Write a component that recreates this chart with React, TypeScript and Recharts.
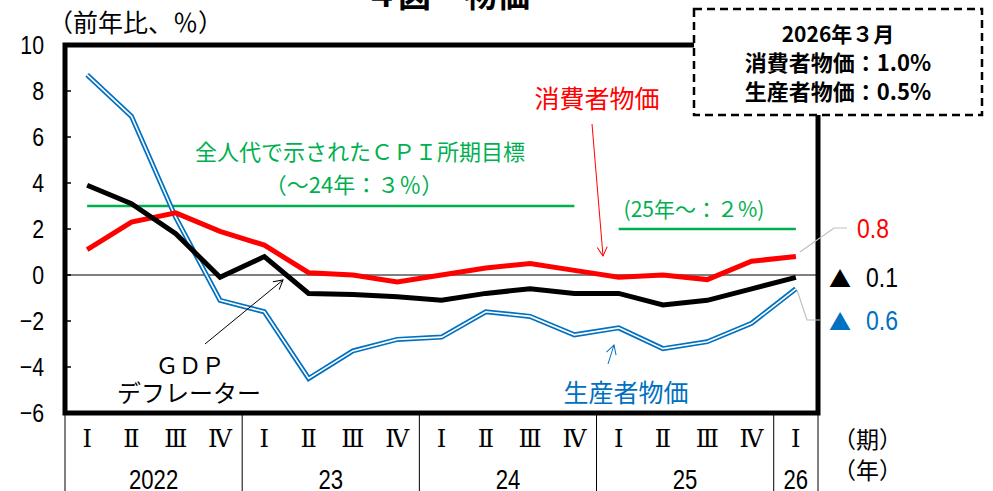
import { LineChart, Line, XAxis, YAxis, ReferenceLine } from 'recharts';

const periods = ['22Q1', '22Q2', '22Q3', '22Q4', '23Q1', '23Q2', '23Q3', '23Q4', '24Q1', '24Q2', '24Q3', '24Q4', '25Q1', '25Q2', '25Q3', '25Q4', '26Q1'];
const quarterLabels = ['Ⅰ', 'Ⅱ', 'Ⅲ', 'Ⅳ', 'Ⅰ', 'Ⅱ', 'Ⅲ', 'Ⅳ', 'Ⅰ', 'Ⅱ', 'Ⅲ', 'Ⅳ', 'Ⅰ', 'Ⅱ', 'Ⅲ', 'Ⅳ', 'Ⅰ'];
const yearLabels = ['2022', '23', '24', '25', '26'];

const cpi = [1.1, 2.3, 2.7, 1.9, 1.3, 0.1, 0.0, -0.3, 0.0, 0.3, 0.5, 0.2, -0.1, 0.0, -0.2, 0.6, 0.8];
const ppi = [8.7, 6.9, 2.5, -1.1, -1.6, -4.5, -3.3, -2.8, -2.7, -1.6, -1.8, -2.6, -2.3, -3.2, -2.9, -2.1, -0.6];
const deflator = [3.9, 3.1, 1.8, -0.1, 0.8, -0.8, -0.85, -0.95, -1.1, -0.8, -0.6, -0.8, -0.8, -1.3, -1.1, -0.6, -0.1];
const target3 = [3, 3, 3, 3, 3, 3, 3, 3, 3, 3, 3, 3, null, null, null, null, null];
const target2 = [null, null, null, null, null, null, null, null, null, null, null, null, 2, 2, 2, 2, 2];

const yTicks = [-6, -4, -2, 0, 2, 4, 6, 8, 10];

const data = periods.map((p, i) => ({
  period: p,
  cpi: cpi[i],
  ppi: ppi[i],
  deflator: deflator[i],
  target3: target3[i],
  target2: target2[i],
}));

// layout
const W = 993;
const H = 491;
const PLOT_L = 65;
const PLOT_R = 818;
const PLOT_T = 45;
const PLOT_B = 413;
const HALF = (PLOT_R - PLOT_L) / periods.length / 2;

const JP = '"Noto Sans CJK JP", sans-serif';
const NUM = '"Liberation Sans", "Noto Sans CJK JP", sans-serif';
const ROMAN = '"DejaVu Serif", "Noto Sans CJK JP", serif';

const RED = '#ff0000';
const BLUE = '#0070c0';
const GREEN = '#00b050';

// condensed number text: squeeze horizontally around the anchor
function Num({ x, y, anchor = 'start', size = 26, fill = '#000', children }: any) {
  return (
    <g transform={`translate(${x},${y}) scale(0.82,1)`}>
      <text x={0} y={0} textAnchor={anchor} fontFamily={NUM} fontSize={size} fill={fill}>
        {children}
      </text>
    </g>
  );
}

function YTick(props: any) {
  const { y, payload } = props;
  const v = payload.value as number;
  return (
    <g>
      <line x1={PLOT_L} x2={PLOT_L + 6} y1={y} y2={y} stroke="#000" strokeWidth={1.5} />
      <Num x={44} y={y + 9} anchor="end" size={26}>
        {v < 0 ? `−${Math.abs(v)}` : v}
      </Num>
    </g>
  );
}

function XTick(props: any) {
  const { x, index } = props;
  const q = quarterLabels[index];
  const yearIdx = Math.floor(index / 4);
  const showYear = index % 4 === 1 || index === periods.length - 1;
  const yearX = index === periods.length - 1 ? x : x + HALF;
  return (
    <g>
      <text x={x} y={447} textAnchor="middle" fontFamily={ROMAN} fontSize={24} fill="#000">
        {q}
      </text>
      {showYear && (
        <Num x={yearX} y={489} anchor="middle" size={27}>
          {yearLabels[yearIdx]}
        </Num>
      )}
      {index % 4 === 0 && <line x1={x - HALF} x2={x - HALF} y1={PLOT_B} y2={H} stroke="#000" strokeWidth={1} />}
      {index === periods.length - 1 && <line x1={x + HALF} x2={x + HALF} y1={PLOT_B} y2={H} stroke="#000" strokeWidth={1} />}
    </g>
  );
}

function Overlay() {
  return (
    <svg width={W} height={H} style={{ position: 'absolute', left: 0, top: 0, pointerEvents: 'none' }}>
      <defs>
        <marker id="arRed" markerWidth="12" markerHeight="12" refX="10" refY="6" orient="auto" markerUnits="userSpaceOnUse">
          <path d="M1,1 L10,6 L1,11" fill="none" stroke={RED} strokeWidth={1} />
        </marker>
        <marker id="arBlack" markerWidth="12" markerHeight="12" refX="10" refY="6" orient="auto" markerUnits="userSpaceOnUse">
          <path d="M1,1 L10,6 L1,11" fill="none" stroke="#000" strokeWidth={1} />
        </marker>
        <marker id="arBlue" markerWidth="12" markerHeight="12" refX="10" refY="6" orient="auto" markerUnits="userSpaceOnUse">
          <path d="M1,1 L10,6 L1,11" fill="none" stroke={BLUE} strokeWidth={1} />
        </marker>
      </defs>

      {/* title, clipped at top */}
      <text x={365} y={7} fontFamily={JP} fontSize={33} fontWeight={700} fill="#000">
        ４図　物価
      </text>

      {/* plot frame */}
      <rect x={PLOT_L} y={PLOT_T} width={PLOT_R - PLOT_L} height={PLOT_B - PLOT_T} fill="none" stroke="#000" strokeWidth={5} />

      <text x={48} y={32} fontFamily={JP} fontSize={25} fill="#000">
        （前年比、％）
      </text>

      {/* target labels */}
      <text x={360} y={160} textAnchor="middle" fontFamily={JP} fontSize={22} fill={GREEN}>
        全人代で示されたＣＰＩ所期目標
      </text>
      <text x={354} y={193} textAnchor="middle" fontFamily={JP} fontSize={22} fill={GREEN}>
        （～24年：３％）
      </text>
      <text x={694} y={217} textAnchor="middle" fontFamily={JP} fontSize={21} fill={GREEN}>
        (25年～：２%)
      </text>

      {/* series annotations */}
      <text x={597} y={108} textAnchor="middle" fontFamily={JP} fontSize={25} fill={RED}>
        消費者物価
      </text>
      <line x1={592} y1={124} x2={603} y2={256} stroke={RED} strokeWidth={1} markerEnd="url(#arRed)" />

      <text x={190} y={374} textAnchor="middle" fontFamily={JP} fontSize={23} fill="#000">
        ＧＤＰ
      </text>
      <text x={189} y={402} textAnchor="middle" fontFamily={JP} fontSize={24} fill="#000">
        デフレーター
      </text>
      <line x1={205} y1={344} x2={283} y2={280} stroke="#000" strokeWidth={1} markerEnd="url(#arBlack)" />

      <text x={626} y={402} textAnchor="middle" fontFamily={JP} fontSize={25} fill={BLUE}>
        生産者物価
      </text>
      <line x1={608} y1={364} x2={614} y2={345} stroke={BLUE} strokeWidth={1} markerEnd="url(#arBlue)" />

      {/* end-value labels */}
      <polyline points="800,252 834,228 847,228" fill="none" stroke="#bfbfbf" strokeWidth={1.2} />
      <Num x={857} y={238} size={28} fill={RED}>0.8</Num>
      <text x={829} y={287} fontFamily={JP} fontSize={22} fill="#000">
        ▲
      </text>
      <Num x={866} y={287} size={28}>0.1</Num>
      <polyline points="797,290 807,320 820,320" fill="none" stroke="#bfbfbf" strokeWidth={1.2} />
      <text x={829} y={330} fontFamily={JP} fontSize={22} fill={BLUE}>
        ▲
      </text>
      <Num x={866} y={330} size={28} fill={BLUE}>0.6</Num>

      <text x={833} y={448} fontFamily={JP} fontSize={23} fill="#000">
        （期）
      </text>
      <text x={833} y={479} fontFamily={JP} fontSize={23} fill="#000">
        （年）
      </text>

      {/* latest-month box */}
      <rect x={694} y={9} width={288} height={106} fill="#fff" stroke="#000" strokeWidth={2.5} strokeDasharray="8 5" />
      <text x={838} y={42} textAnchor="middle" fontFamily={JP} fontSize={21} fontWeight={700} fill="#000">
        2026年３月
      </text>
      <text x={838} y={71} textAnchor="middle" fontFamily={JP} fontSize={22} fontWeight={700} fill="#000">
        消費者物価：1.0%
      </text>
      <text x={838} y={100} textAnchor="middle" fontFamily={JP} fontSize={22} fontWeight={700} fill="#000">
        生産者物価：0.5%
      </text>
    </svg>
  );
}

export default function App() {
  return (
    <div style={{ position: 'fixed', left: 0, top: 0, width: W, height: H, background: '#fff', overflow: 'hidden' }}>
      <LineChart width={W} height={H} data={data} margin={{ top: PLOT_T, right: W - PLOT_R, bottom: 0, left: 0 }}>
        <XAxis
          dataKey="period"
          type="category"
          padding={{ left: HALF, right: HALF }}
          height={H - PLOT_B}
          interval={0}
          axisLine={false}
          tickLine={false}
          tick={<XTick />}
        />
        <YAxis
          domain={[-6, 10]}
          ticks={yTicks}
          width={PLOT_L}
          axisLine={false}
          tickLine={false}
          tick={<YTick />}
        />
        <ReferenceLine y={0} stroke="#000" strokeWidth={1} />
        <Line dataKey="target3" stroke={GREEN} strokeWidth={2.5} dot={false} isAnimationActive={false} />
        <Line dataKey="target2" stroke={GREEN} strokeWidth={2.5} dot={false} isAnimationActive={false} />
        <Line dataKey="ppi" stroke={BLUE} strokeWidth={5} dot={false} strokeLinejoin="miter" isAnimationActive={false} />
        <Line dataKey="ppi" stroke="#fff" strokeWidth={1.6} dot={false} strokeLinejoin="miter" isAnimationActive={false} />
        <Line dataKey="cpi" stroke={RED} strokeWidth={5} dot={false} isAnimationActive={false} />
        <Line dataKey="deflator" stroke="#000" strokeWidth={5} dot={false} isAnimationActive={false} />
      </LineChart>
      <Overlay />
    </div>
  );
}
